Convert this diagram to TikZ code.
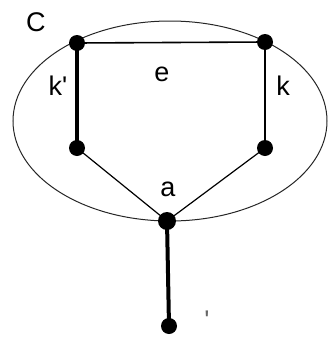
\documentclass[tikz,border=0pt]{standalone}
\usepackage{fontspec}
\setmainfont{Liberation Sans}
\tikzstyle{vertex}=[black]
\tikzstyle{thinedge}=[line width = 0.8pt, line cap=round]
\tikzstyle{hairedge}=[line width = 0.6pt, line cap=round]
\tikzstyle{thickedge}=[line width = 2pt, line cap=round]
\tikzstyle{region}=[line width = 0.5pt, black!85]
\tikzstyle{lbl}=[font=\fontsize{13.5}{15}\selectfont]

\begin{document}
\begin{tikzpicture}[x=0.5pt, y=-0.5pt]
				\useasboundingbox (0,0) rectangle (329,343);

				\coordinate (tl) at (77,43);
				\coordinate (tr) at (265,42);
				\coordinate (bl) at (77,148);
				\coordinate (br) at (265,148);
				\coordinate (a) at (167,221);
				\coordinate (d) at (169,326);

				\draw[region] (170,121) ellipse [x radius=157, y radius=100];

				\draw[thinedge] (tl) -- (tr);
				\draw[thickedge] (tl) -- (bl);
				\draw[thinedge] (tr) -- (br);
				\draw[hairedge] (bl) -- (a);
				\draw[hairedge] (br) -- (a);
				\draw[thickedge] (a) -- (d);

				\fill[vertex] (tl) circle [radius=8];
				\fill[vertex] (tr) circle [radius=8];
				\fill[vertex] (bl) circle [radius=8];
				\fill[vertex] (br) circle [radius=8];
				\fill[vertex] (a) circle [radius=9];
				\fill[vertex] (d) circle [radius=8];

				\node[lbl] (lc) at (36,22) {C};
				\node[lbl] (le) at (162,74) {e};
				\node[lbl] (lkp) at (58,86) {k\textquotesingle};
				\node[lbl] (lk) at (283,86) {k};
				\node[lbl] (la) at (168,189) {a};
				\node[lbl, black!60] (ld) at (207,320) {\textquotesingle};
			\end{tikzpicture}
\end{document}
